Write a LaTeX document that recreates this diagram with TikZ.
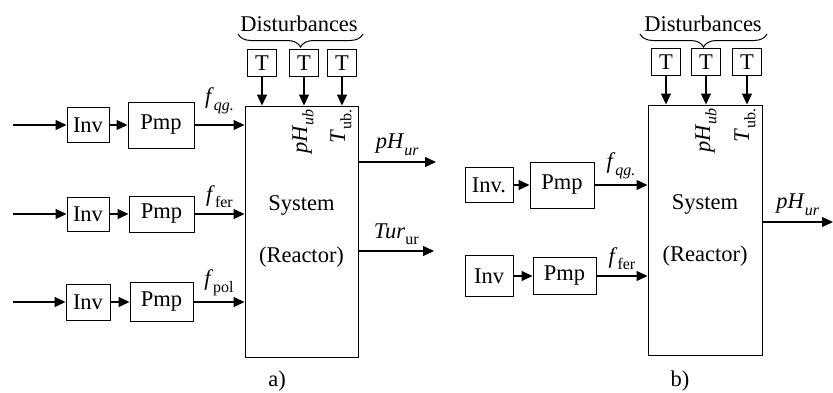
\documentclass[tikz,border=0pt]{standalone}
\usepackage{fontspec}
\setmainfont{Liberation Serif}
\usetikzlibrary{arrows.meta,positioning,decorations.pathreplacing}
\newcommand{\sbs}[1]{\raisebox{-0.28em}{\fontsize{16}{16}\selectfont #1}}

\begin{document}
\begin{tikzpicture}[x=1pt,y=-1pt,
  font=\fontsize{22.5}{26}\selectfont,
  blk/.style={draw,line width=1pt,inner sep=0pt},
  tbox/.style={draw,line width=1pt,inner sep=0pt,minimum width=29pt,minimum height=27pt},
  sysbox/.style={draw,line width=1pt,inner sep=0pt,align=center,font=\fontsize{22.5}{52}\selectfont},
  flow/.style={-{Triangle[length=11pt,width=10pt]},line width=1.1pt},
  lbl/.style={above=5pt,inner sep=1pt},
  vlbl/.style={rotate=90,anchor=east,inner sep=1pt},
  brc/.style={decorate,decoration={brace,amplitude=13pt},line width=1pt}
]
  \useasboundingbox (0,0) rectangle (833,392);

  % a)
  \node[blk,minimum width=42pt,minimum height=35pt] (invA1) at (88,125) {Inv};
  \node[blk,minimum width=66pt,minimum height=46pt] (pmpA1) at (161,125) {Pmp};
  \node[blk,minimum width=42pt,minimum height=34pt] (invA2) at (88,214) {Inv};
  \node[blk,minimum width=65pt,minimum height=36pt] (pmpA2) at (161.5,214) {Pmp};
  \node[blk,minimum width=44pt,minimum height=36pt] (invA3) at (88,302) {Inv};
  \node[blk,minimum width=63pt,minimum height=39pt] (pmpA3) at (161.5,302) {Pmp};
  \node[sysbox,minimum width=113pt,minimum height=251pt] (sysA) at (301.5,231.5) {System\\(Reactor)};
  \node[tbox] (tA1) at (262,63) {T};
  \node[tbox] (tA2) at (304,63) {T};
  \node[tbox] (tA3) at (342,63) {T};
  \node (distA) at (299,24) {Disturbances};
  \node (capA) at (277,381) {a)};
  \node[vlbl] at (303,108) {\textit{pH}\sbs{\textit{ub}}};
  \node[vlbl] at (341,108) {\textit{T}\sbs{ub.}};

  \coordinate (inA1) at (13,125);
  \coordinate (inA2) at (13,214);
  \coordinate (inA3) at (13,302);
  \coordinate (outA1) at (436,162);
  \coordinate (outA2) at (434,251);

  \draw[brc] (363,34) -- (238,34);
  \draw[flow] (inA1) -- (invA1);
  \draw[flow] (inA2) -- (invA2);
  \draw[flow] (inA3) -- (invA3);
  \draw[flow] (invA1) -- (pmpA1);
  \draw[flow] (invA2) -- (pmpA2);
  \draw[flow] (invA3) -- (pmpA3);
  \draw[flow] (pmpA1) -- node[lbl,above=10pt]{\textit{f}\sbs{\textit{qg.}}} (pmpA1 -| sysA.west);
  \draw[flow] (pmpA2) -- node[lbl]{\textit{f}\sbs{fer}} (pmpA2 -| sysA.west);
  \draw[flow] (pmpA3) -- node[lbl]{\textit{f}\sbs{pol}} (pmpA3 -| sysA.west);
  \draw[flow] (tA1) -- (tA1 |- sysA.north);
  \draw[flow] (tA2) -- (tA2 |- sysA.north);
  \draw[flow] (tA3) -- (tA3 |- sysA.north);
  \draw[flow] (sysA.east |- outA1) -- node[lbl]{\textit{pH}\sbs{\textit{ur}}} (outA1);
  \draw[flow] (sysA.east |- outA2) -- node[lbl]{\textit{Tur}\sbs{ur}} (outA2);

  % b)
  \node[blk,minimum width=48pt,minimum height=35pt] (invB1) at (489,185) {Inv.};
  \node[blk,minimum width=64pt,minimum height=46pt] (pmpB1) at (562,185) {Pmp};
  \node[blk,minimum width=48pt,minimum height=41pt] (invB2) at (489,276) {Inv};
  \node[blk,minimum width=63pt,minimum height=37pt] (pmpB2) at (564.5,276) {Pmp};
  \node[sysbox,minimum width=114pt,minimum height=250pt] (sysB) at (705,230) {System\\(Reactor)};
  \node[tbox] (tB1) at (666,62) {T};
  \node[tbox] (tB2) at (706,62) {T};
  \node[tbox] (tB3) at (747,62) {T};
  \node (distB) at (703,24) {Disturbances};
  \node (capB) at (680,381) {b)};
  \node[vlbl] at (706,107) {\textit{pH}\sbs{\textit{ub}}};
  \node[vlbl] at (745,107) {\textit{T}\sbs{ub.}};

  \coordinate (outB1) at (833,222);

  \draw[brc] (767,34) -- (640,34);
  \draw[flow] (invB1) -- (pmpB1);
  \draw[flow] (invB2) -- (pmpB2);
  \draw[flow] (pmpB1) -- node[lbl]{\textit{f}\sbs{\textit{qg.}}} (pmpB1 -| sysB.west);
  \draw[flow] (pmpB2) -- node[lbl]{\textit{f}\sbs{fer}} (pmpB2 -| sysB.west);
  \draw[flow] (tB1) -- (tB1 |- sysB.north);
  \draw[flow] (tB2) -- (tB2 |- sysB.north);
  \draw[flow] (tB3) -- (tB3 |- sysB.north);
  \draw[flow] (sysB.east |- outB1) -- node[lbl]{\textit{pH}\sbs{\textit{ur}}} (outB1);
\end{tikzpicture}
\end{document}
